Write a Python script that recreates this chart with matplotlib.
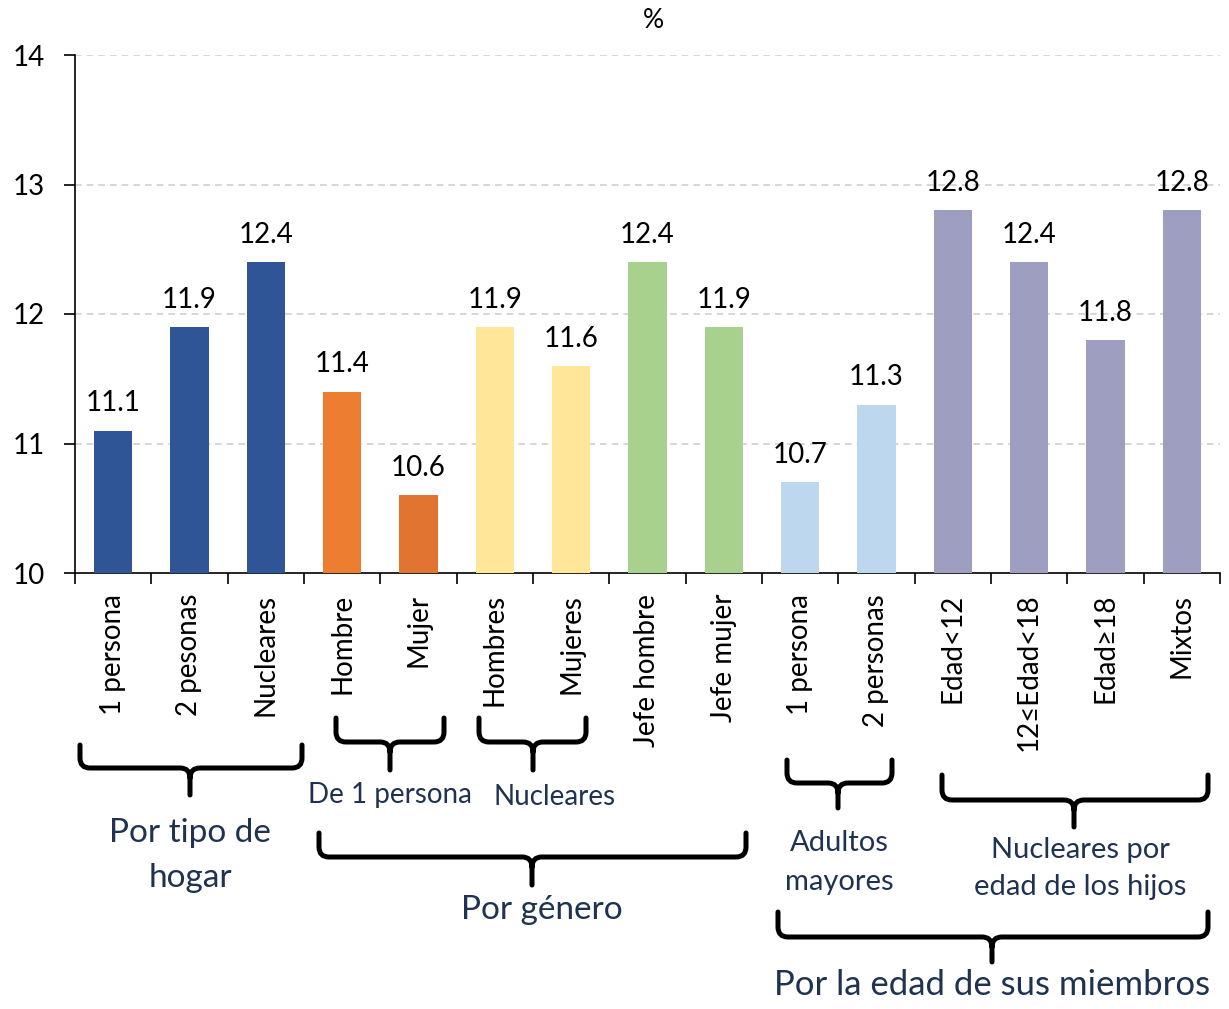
import matplotlib
matplotlib.use("Agg")
import matplotlib.pyplot as plt
from matplotlib.path import Path
from matplotlib.patches import PathPatch

plt.rcParams['font.family'] = ['Lato', 'DejaVu Sans']

categories = ["1 persona", "2 pesonas", "Nucleares", "Hombre", "Mujer", "Hombres", "Mujeres",
              "Jefe hombre", "Jefe mujer", "1 persona", "2 personas", "Edad<12", "12≤Edad<18",
              "Edad≥18", "Mixtos"]
values = [11.1, 11.9, 12.4, 11.4, 10.6, 11.9, 11.6, 12.4, 11.9, 10.7, 11.3, 12.8, 12.4, 11.8, 12.8]
bar_colors = ["#2F5597", "#2F5597", "#2F5597", "#ED7D31", "#E07430", "#FFE699", "#FFE699",
              "#A9D18E", "#A9D18E", "#BDD7EE", "#BDD7EE", "#9E9EC0", "#9E9EC0", "#9E9EC0", "#9E9EC0"]
yticks = [10, 11, 12, 13, 14]

W, H = 1229, 1009
fig = plt.figure(figsize=(W / 100, H / 100), dpi=100)
ax = fig.add_axes([75 / W, 1 - 573 / H, (1220 - 75) / W, (573 - 55) / H])

x = list(range(len(values)))
ax.bar(x, [v - 10 for v in values], bottom=10, width=0.5, color=bar_colors, zorder=3)
for xi, v in zip(x, values):
    ax.text(xi, v + 0.11, f"{v:.1f}", ha='center', va='bottom', fontsize=20, color='black')

ax.set_xlim(-0.5, len(values) - 0.5)
ax.set_ylim(10, 14)
ax.set_yticks(yticks)
ax.set_yticklabels([str(t) for t in yticks], fontsize=20)
ax.set_xticks(x)
ax.set_xticklabels(categories, rotation=90, fontsize=20)
ax.tick_params(axis='x', length=0, pad=15)
ax.set_xticks([i + 0.5 for i in range(-1, len(values))], minor=True)
ax.tick_params(axis='x', which='minor', length=8, width=1.2, direction='out')
ax.tick_params(axis='y', length=8, width=1.2, direction='out', pad=14)
for yt in yticks[1:]:
    ax.axhline(yt, color='#D0D0D0', linestyle=(0, (4, 3)), linewidth=1.2, zorder=1)
for s in ['top', 'right']:
    ax.spines[s].set_visible(False)
ax.spines['left'].set_linewidth(1.2)
ax.spines['bottom'].set_linewidth(1.2)

fig.text(653 / W, 1 - 20 / H, "%", ha='center', va='center', fontsize=19)

def fx(px):
    return px / W

def fy(py):
    return 1 - py / H

def brace(x0, x1, ytop, ybar, ytip, xm):
    r = 10
    verts = [
        (fx(x0), fy(ytop)), (fx(x0), fy(ybar - r)), (fx(x0), fy(ybar)), (fx(x0 + r), fy(ybar)),
        (fx(xm - r), fy(ybar)), (fx(xm), fy(ybar)), (fx(xm), fy(ybar + r)),
        (fx(xm), fy(ytip)),
    ]
    codes = [Path.MOVETO, Path.LINETO, Path.CURVE3, Path.CURVE3,
             Path.LINETO, Path.CURVE3, Path.CURVE3, Path.LINETO]
    verts2 = [
        (fx(x1), fy(ytop)), (fx(x1), fy(ybar - r)), (fx(x1), fy(ybar)), (fx(x1 - r), fy(ybar)),
        (fx(xm + r), fy(ybar)), (fx(xm), fy(ybar)), (fx(xm), fy(ybar + r)),
    ]
    codes2 = [Path.MOVETO, Path.LINETO, Path.CURVE3, Path.CURVE3,
              Path.LINETO, Path.CURVE3, Path.CURVE3]
    p = Path(verts + verts2, codes + codes2)
    fig.add_artist(PathPatch(p, transform=fig.transFigure, fill=False, edgecolor='black',
                             linewidth=3.6, capstyle='round', joinstyle='round'))

txtc = "#1F3350"

def label(xp, yp, s, size):
    fig.text(fx(xp), fy(yp), s, ha='center', va='center', fontsize=size, color=txtc)

brace(80, 302, 745, 768, 795, 190)
label(190, 833, "Por tipo de", 24)
label(190, 878, "hogar", 24)
brace(336, 444, 718, 742, 770, 390)
label(390, 795, "De 1 persona", 20)
brace(479, 586, 718, 742, 770, 533)
label(555, 797, "Nucleares", 20)
brace(319, 746, 833, 857, 885, 532)
label(542, 910, "Por género", 24)
brace(787, 892, 760, 783, 808, 838)
label(839, 843, "Adultos", 21)
label(839, 882, "mayores", 21)
brace(942, 1208, 775, 800, 827, 1074)
label(1080, 850, "Nucleares por", 21)
label(1080, 887, "edad de los hijos", 21)
brace(778, 1208, 912, 937, 962, 992)
label(992, 985, "Por la edad de sus miembros", 25)

fig.savefig("out.png", dpi=100)
